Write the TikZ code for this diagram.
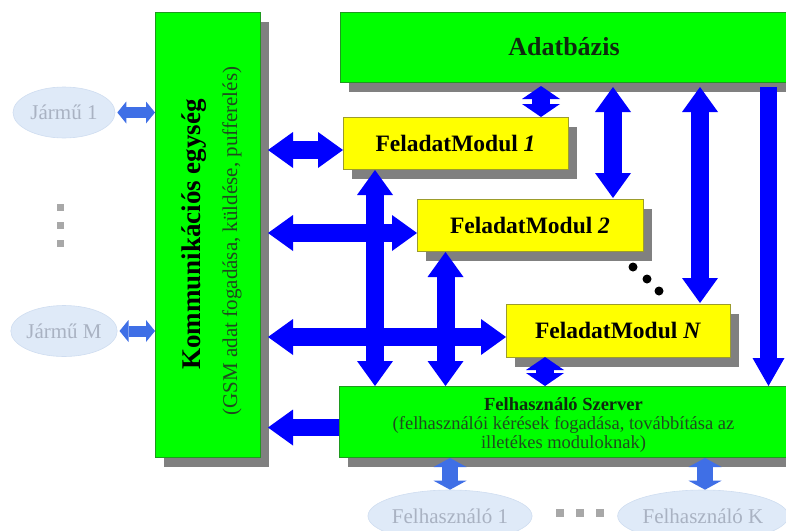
\documentclass[tikz,border=0pt]{standalone}
\usepackage{fontspec}
\setmainfont{Liberation Serif}
\usetikzlibrary{arrows.meta,shadows,calc,shapes.geometric}

\definecolor{boxgreen}{HTML}{00FF00}
\definecolor{edgegreen}{HTML}{1E9A1E}
\definecolor{boxyellow}{HTML}{FFFF00}
\definecolor{edgeyellow}{HTML}{9C9C2C}
\definecolor{shadowgray}{HTML}{808080}
\definecolor{arrblue}{HTML}{0000FF}
\definecolor{softblue}{HTML}{3F6FE6}
\definecolor{ellfill}{HTML}{DFEAF8}
\definecolor{elledge}{HTML}{CFDDF0}
\definecolor{elltext}{HTML}{A9B2C2}
\definecolor{dotgray}{HTML}{A8A8A8}
\definecolor{desctext}{HTML}{1F4A1F}
\definecolor{titletext}{HTML}{0F2A0F}

\tikzset{
  bigtip/.tip={Triangle[width=36pt,length=25pt,line width=0pt]},
  downtip/.tip={Triangle[width=32pt,length=28pt,line width=0pt]},
  midtip/.tip={Triangle[width=38pt,length=13pt,line width=0pt]},
  jtip/.tip={Triangle[width=22pt,length=9pt,line width=0pt]},
  utip/.tip={Triangle[width=33pt,length=9pt,line width=0pt]},
  shadowed/.style={drop shadow={shadow xshift=9pt,shadow yshift=-10pt,fill=shadowgray,opacity=1}},
  boxbase/.style={rectangle,inner sep=0pt,outer sep=0pt,line width=0.8pt,shadowed},
  greenbox/.style={boxbase,fill=boxgreen,draw=edgegreen},
  modbox/.style={boxbase,fill=boxyellow,draw=edgeyellow,
    font=\fontsize{23.5}{25}\selectfont\bfseries,
    minimum width=225pt,minimum height=52pt},
  terminal/.style={ellipse,inner sep=0pt,fill=ellfill,draw=elledge,line width=0.6pt,
    text=elltext,font=\fontsize{21}{22}\selectfont},
  bigdbl/.style={draw=arrblue,line width=18pt,bigtip-bigtip},
  bigone/.style={draw=arrblue,line width=17pt,-bigtip},
  downone/.style={draw=arrblue,line width=17pt,-downtip},
  shortdbl/.style={draw=arrblue,line width=18pt,midtip-midtip},
  jdbl/.style={draw=softblue,line width=11pt,jtip-jtip},
  udbl/.style={draw=softblue,line width=16pt,utip-utip},
}

\begin{document}
\begin{tikzpicture}[x=1pt,y=-1pt]
\useasboundingbox (0,0) rectangle (786,530);

% main blocks
\node[greenbox,minimum width=105pt,minimum height=445pt] (komm) at (207.5,234.5) {};
\node[rotate=90,font=\fontsize{27}{28}\selectfont\bfseries] (kommtitle) at (194,234.5) {Kommunikációs egység};
\node[rotate=90,text=desctext,font=\fontsize{21}{22}\selectfont] (kommdesc) at (232,241) {(GSM adat fogadása, küldése, pufferelés)};

\node[greenbox,minimum width=448pt,minimum height=70pt,text=titletext,
      font=\fontsize{26}{28}\selectfont\bfseries] (db) at (564,47) {Adatbázis};

\node[modbox] (fm1) at (455.5,143) {FeladatModul \textit{1}};
\node[modbox,minimum width=226pt] (fm2) at (530,225) {FeladatModul \textit{2}};
\node[modbox,minimum width=224pt,minimum height=53pt] (fmN) at (618,330.5) {FeladatModul \textit{N}};

\node[greenbox,minimum width=449pt,minimum height=71pt] (srv) at (563.5,421.5) {};
\node[align=center,text=desctext,font=\fontsize{18.5}{19}\selectfont] (srvtext) at (563.5,425)
  {{\color{titletext}\fontsize{18.5}{21}\selectfont\bfseries Felhasználó Szerver}\\
   (felhasználói kérések fogadása, továbbítása az\\ illetékes moduloknak)};

% vehicles and users
\node[terminal,minimum width=102pt,minimum height=51pt] (j1) at (64,112.5) {Jármű 1};
\node[terminal,minimum width=102pt,minimum height=51pt] (jM) at (64,331) {Jármű M};
\node[terminal,minimum width=160pt,minimum height=52pt] (u1) at (450,516) {Felhasználó 1};
\node[terminal,minimum width=158pt,minimum height=52pt] (uK) at (703,516) {Felhasználó K};

% ellipsis marks
\foreach \yy in {204,222,240} \fill[dotgray] (56.5,\yy) rectangle +(7,7);
\foreach \xx in {556,576,596} \fill[dotgray] (\xx,509) rectangle +(8,8);
\foreach \xx/\yy in {633/267,647/279,659/291} \fill[black] (\xx,\yy) circle[radius=4.5pt];

% vehicle links
\draw[jdbl] ($(j1.east)+(2,0)$) -- (j1.east -| komm.west);
\draw[jdbl] ($(jM.east)+(2,0)$) -- (jM.east -| komm.west);

% communication unit <-> modules
\draw[bigdbl] ($(komm.east |- fm1.west)+(8,7)$) -- ($(fm1.west)+(0,7)$);
\draw[bigdbl] ($(komm.east |- fm2.west)+(8,8)$) -- ($(fm2.west)+(0,8)$);
\draw[bigdbl] ($(komm.east |- fmN.west)+(8,6.5)$) -- ($(fmN.west)+(0,6.5)$);

% modules <-> user server
\draw[bigdbl] ($(fm1.south west)+(32,1)$) -- ($(fm1.south west |- srv.north)+(32,0)$);
\draw[bigdbl] ($(fm2.south west)+(28.5,1)$) -- ($(fm2.south west |- srv.north)+(28.5,0)$);
\draw[shortdbl] ($(fmN.south west)+(39,0)$) -- ($(fmN.south west |- srv.north)+(39,0)$);

% database <-> modules
\draw[shortdbl] ($(db.south -| fm1.west)+(198,4)$) -- ($(fm1.north west)+(198,0)$);
\draw[bigdbl] ($(db.south -| fm2.west)+(196,5)$) -- ($(fm2.north west)+(196,-1)$);
\draw[bigdbl] ($(db.south -| fmN.west)+(194,5)$) -- ($(fmN.north west)+(194,-1)$);
\draw[downone] ($(db.south -| srv.west)+(429.5,5)$) -- ($(srv.north west)+(429.5,0)$);

% user server -> communication unit
\draw[bigone] ($(srv.north west)+(0,41.5)$) -- ($(komm.east |- srv.north west)+(8,41.5)$);

% user server <-> users
\draw[udbl] ($(srv.south -| u1.north)+(0,1)$) -- (u1.north);
\draw[udbl] ($(srv.south -| uK.north)+(2,1)$) -- ($(uK.north)+(2,0)$);
\end{tikzpicture}
\end{document}
